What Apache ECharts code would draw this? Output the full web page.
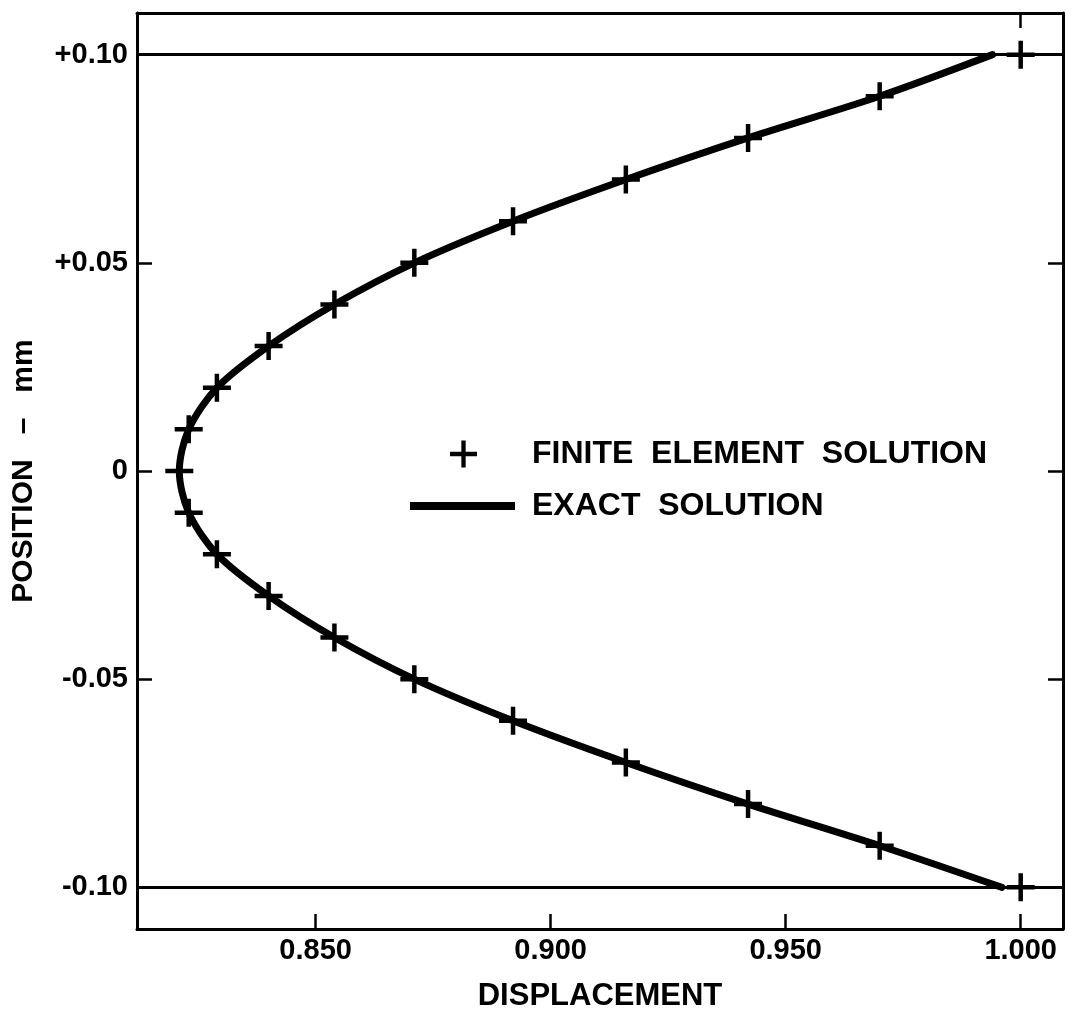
<!DOCTYPE html>
<html>
<head>
<meta charset="utf-8">
<script src="https://cdn.jsdelivr.net/npm/echarts@6/dist/echarts.min.js"></script>
<style>html,body{margin:0;padding:0;background:#fff}#c{width:1072px;height:1017px}</style>
</head>
<body>
<div id="c"></div>
<script>
// Position (mm) of each node
const positions = [-0.10,-0.09,-0.08,-0.07,-0.06,-0.05,-0.04,-0.03,-0.02,-0.01,0.00,0.01,0.02,0.03,0.04,0.05,0.06,0.07,0.08,0.09,0.10];
// Finite element displacement at each node
const feDisp = [1.000,0.970,0.942,0.916,0.892,0.871,0.854,0.840,0.829,0.823,0.821,0.823,0.829,0.840,0.854,0.871,0.892,0.916,0.942,0.970,1.000];
// Exact solution displacement at each node
const exactDisp = [0.996,0.970,0.942,0.916,0.892,0.871,0.854,0.840,0.829,0.823,0.821,0.823,0.829,0.840,0.854,0.871,0.892,0.916,0.942,0.970,0.994];
// Tick values and labels
const xTicks = [0.85,0.90,0.95,1.00];
const xTickLabels = ['0.850','0.900','0.950','1.000'];
const yTicks = [-0.10,-0.05,0,0.05,0.10];
const yTickLabels = ['-0.10','-0.05','0','+0.05','+0.10'];
const seriesNames = ['FINITE  ELEMENT  SOLUTION','EXACT  SOLUTION'];

const plusPath = 'path://M-1.6,-10 L1.6,-10 L1.6,-1.6 L10,-1.6 L10,1.6 L1.6,1.6 L1.6,10 L-1.6,10 L-1.6,1.6 L-10,1.6 L-10,-1.6 L-1.6,-1.6 Z';
const font = '"Liberation Sans", Arial, sans-serif';

const chart = echarts.init(document.getElementById('c'));
const lineAxis = {show:true, onZero:false, lineStyle:{color:'#000', width:3}};
const tickStyle = {color:'#000', width:2.5};
chart.setOption({
  backgroundColor:'#fff',
  animation:false,
  grid:{left:137, right:9, top:13, bottom:79},
  xAxis:[{
    type:'value', min:0.812, max:1.009, position:'bottom',
    axisLine:lineAxis, splitLine:{show:false},
    axisTick:{show:true, inside:true, length:15, lineStyle:tickStyle, customValues:xTicks},
    axisLabel:{show:true, customValues:xTicks, margin:7, color:'#000', fontFamily:font, fontWeight:'bold', fontSize:29,
      formatter:v=>{const i=xTicks.findIndex(t=>Math.abs(t-v)<1e-6);return i>=0?xTickLabels[i]:'';}},
    name:'DISPLACEMENT', nameLocation:'middle', nameGap:52,
    nameTextStyle:{color:'#000', fontFamily:font, fontWeight:'bold', fontSize:31}
  },{
    type:'value', min:0.812, max:1.009, position:'top',
    axisLine:lineAxis, splitLine:{show:false},
    axisTick:{show:true, inside:true, length:15, lineStyle:tickStyle, customValues:[1.0]},
    axisLabel:{show:false}
  }],
  yAxis:[{
    type:'value', min:-0.11, max:0.11, position:'left',
    axisLine:lineAxis, splitLine:{show:false},
    axisTick:{show:true, inside:true, length:15, lineStyle:tickStyle, customValues:[-0.05,0,0.05]},
    axisLabel:{show:true, customValues:yTicks, margin:9, color:'#000', fontFamily:font, fontWeight:'bold', fontSize:29,
      formatter:v=>{const i=yTicks.findIndex(t=>Math.abs(t-v)<1e-6);return i>=0?yTickLabels[i]:'';}},
    name:'POSITION   –   mm', nameLocation:'middle', nameGap:98, nameRotate:90,
    nameTextStyle:{color:'#000', fontFamily:font, fontWeight:'bold', fontSize:30}
  },{
    type:'value', min:-0.11, max:0.11, position:'right',
    axisLine:lineAxis, splitLine:{show:false},
    axisTick:{show:true, inside:true, length:15, lineStyle:tickStyle, customValues:[-0.05,0,0.05]},
    axisLabel:{show:false}
  }],
  legend:[{
    data:[{name:seriesNames[0], icon:plusPath, itemStyle:{color:'#000', opacity:1}}],
    left:450, top:438, padding:0, itemWidth:27, itemHeight:27,
    textStyle:{color:'#000', fontFamily:font, fontWeight:'bold', fontSize:32, padding:[0,0,0,50]},
    selectedMode:false
  },{
    data:[{name:seriesNames[1], icon:'rect', itemStyle:{color:'#000'}}],
    left:410, top:490, padding:0, itemWidth:105, itemHeight:8,
    textStyle:{color:'#000', fontFamily:font, fontWeight:'bold', fontSize:32, padding:[0,0,0,12]},
    selectedMode:false
  }],
  series:[{
    name:seriesNames[1], type:'line', xAxisIndex:0, yAxisIndex:0,
    data:exactDisp.map((x,i)=>[x, positions[i]]),
    smooth:0.3, symbol:'none', z:2,
    lineStyle:{color:'#000', width:7, cap:'round'}, itemStyle:{color:'#000'},
    markLine:{silent:true, symbol:'none', label:{show:false},
      lineStyle:{color:'#000', width:3, type:'solid'},
      data:[{yAxis:0.10},{yAxis:-0.10}]}
  },{
    name:seriesNames[0], type:'scatter', xAxisIndex:0, yAxisIndex:0,
    data:feDisp.map((x,i)=>[x, positions[i]]),
    symbol:plusPath, symbolSize:28, z:3,
    itemStyle:{color:'#000', opacity:1}
  }]
});
</script>
</body>
</html>
